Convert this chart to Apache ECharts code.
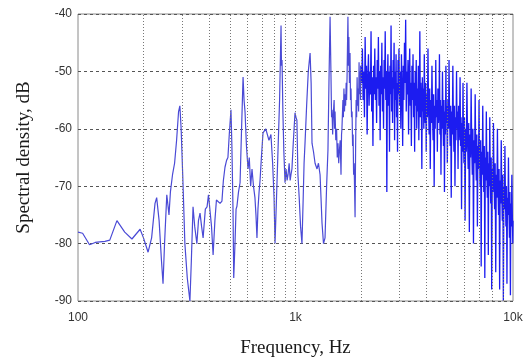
<!DOCTYPE html>
<html>
<head>
<meta charset="utf-8">
<script src="https://cdn.jsdelivr.net/npm/echarts@6/dist/echarts.min.js"></script>
<style>
  html, body { margin: 0; padding: 0; background: #fff; }
  #chart { width: 530px; height: 361px; }
</style>
</head>
<body>
<div id="chart"></div>
<script>
// spectrum, [Hz, dB]
const lowBand = [
  [100, -78], [105, -78.2], [113, -80.2], [120, -79.8], [126, -79.7], [133, -79.6],
  [140, -79.4], [151, -76], [164, -78], [177, -79.2], [193, -77.5], [200, -79],
  [210, -81.5], [218, -79], [226, -73], [230, -72], [236, -76], [242, -83],
  [246, -87], [250, -80], [256, -71.5], [262, -75], [266, -71], [272, -68],
  [278, -66], [284, -62], [290, -57], [294, -56], [298, -60], [303, -68],
  [310, -80], [318, -86], [327, -90], [332, -83], [338, -73.6], [344, -77],
  [352, -80], [358, -76], [364, -74.7], [370, -77], [376, -79], [385, -74],
  [392, -73.6], [398, -71.5], [405, -71.8], [411, -77], [418, -82], [426, -76],
  [433, -72.4], [440, -72.4], [450, -73], [459, -72.6], [466, -69], [474, -66.7],
  [482, -65.5], [489, -65], [496, -61], [505, -56.7], [510, -63], [516, -74],
  [520, -86], [527, -80], [533, -74], [538, -73.5], [547, -71], [556, -69.4],
  [565, -60], [574, -51], [580, -55], [586, -57], [595, -63], [605, -67],
  [613, -65], [622, -70], [631, -67], [641, -70], [651, -72], [658, -75],
  [665, -79], [672, -74], [680, -71], [687, -69], [697, -65], [709, -60.7],
  [720, -61], [730, -60], [740, -59.7], [755, -62], [771, -61], [785, -66],
  [797, -72], [805, -80], [818, -72], [831, -63.7], [845, -55], [858, -42],
  [862, -49], [867, -48], [875, -57], [884, -64], [895, -69.4], [905, -67],
  [915, -69], [924, -68], [935, -66], [945, -69], [953, -68], [963, -67],
  [975, -63], [985, -60], [995, -57.2], [1005, -58], [1015, -58.5], [1026, -68],
  [1040, -72], [1055, -77], [1071, -80], [1085, -72], [1095, -66], [1106, -62.5],
  [1125, -56], [1145, -50], [1167, -46.8], [1180, -52], [1191, -62.5], [1210, -64],
  [1230, -66], [1256, -67], [1275, -66], [1297, -68], [1310, -72], [1324, -76.4],
  [1345, -80], [1367, -79], [1390, -70], [1410, -63.7], [1425, -52], [1442, -40.5],
  [1455, -50], [1465, -58], [1472, -56.7], [1482, -61], [1490, -58], [1505, -55],
  [1512, -60], [1520, -57], [1532, -62], [1545, -60], [1556, -65], [1568, -62.5],
  [1580, -66], [1590, -64], [1605, -62], [1619, -68], [1628, -61], [1635, -60],
  [1645, -57], [1652, -55], [1660, -58], [1670, -53], [1680, -57], [1690, -54],
  [1700, -56], [1710, -52], [1718, -55], [1726, -51], [1742, -40.5], [1752, -49],
  [1760, -44], [1770, -52], [1781, -46.8], [1790, -55], [1800, -53], [1810, -58],
  [1820, -57], [1830, -63], [1840, -61], [1850, -68], [1860, -66], [1879, -75.4],
  [1890, -63], [1900, -55], [1910, -58], [1920, -51], [1930, -56], [1940, -53],
  [1950, -57], [1960, -48.4], [1970, -54], [1981, -50], [1990, -55], [2000, -49]
];

const highBand = [
  [2000, -49],
  [2015, -52], [2030, -46], [2045, -55], [2060, -50], [2075, -58], [2090, -44], [2105, -53], [2120, -49], [2135, -61], [2150, -51],
  [2165, -47], [2180, -56], [2195, -50], [2210, -54], [2225, -43], [2240, -57], [2255, -51], [2270, -63], [2285, -49], [2300, -54],
  [2315, -46], [2330, -55], [2345, -51], [2360, -59], [2375, -48], [2390, -53], [2405, -44], [2420, -56], [2435, -50], [2450, -62],
  [2465, -49], [2480, -54], [2495, -45], [2510, -57], [2525, -51], [2540, -60], [2555, -48], [2570, -53], [2585, -43], [2600, -55],
  [2615, -50], [2630, -71], [2645, -52], [2660, -47], [2675, -56], [2690, -50], [2705, -64], [2720, -49], [2735, -54], [2750, -42],
  [2765, -57], [2780, -51], [2795, -59], [2810, -48], [2825, -53], [2840, -45], [2855, -62], [2870, -50], [2885, -55], [2900, -47],
  [2915, -58], [2930, -52], [2945, -64], [2960, -48], [2975, -54], [2990, -46],
  [3010, -56], [3030, -50], [3050, -60], [3070, -47], [3090, -53], [3110, -63], [3130, -49], [3150, -55], [3170, -45], [3190, -52],
  [3210, -41], [3230, -57], [3250, -50], [3270, -54], [3290, -48], [3310, -61], [3330, -51], [3350, -46], [3370, -56], [3390, -52],
  [3410, -63], [3430, -49], [3450, -55], [3470, -47], [3490, -58], [3510, -52], [3530, -64], [3550, -50], [3570, -56], [3590, -48],
  [3610, -60], [3630, -53], [3650, -57], [3670, -49], [3690, -62], [3710, -54], [3730, -43], [3750, -58], [3770, -52], [3790, -56],
  [3810, -67], [3830, -51], [3850, -57], [3870, -53], [3890, -60], [3910, -47], [3930, -55], [3950, -59], [3970, -52], [3990, -64],
  [4015, -54], [4040, -58], [4065, -46], [4090, -56], [4115, -61], [4140, -53], [4165, -67], [4190, -55], [4215, -59], [4240, -49],
  [4265, -57], [4290, -62], [4315, -54], [4340, -70], [4365, -56], [4390, -60], [4415, -48], [4440, -58], [4465, -55], [4490, -64],
  [4515, -53], [4540, -59], [4565, -57], [4590, -47], [4615, -61], [4640, -55], [4665, -68], [4690, -56], [4715, -60], [4740, -50],
  [4765, -58], [4790, -63], [4815, -55], [4840, -71], [4865, -57], [4890, -61], [4915, -49], [4940, -59], [4965, -56], [4990, -66],
  [5020, -55], [5050, -60], [5080, -48], [5110, -58], [5140, -63], [5170, -56], [5200, -72], [5230, -57], [5260, -61], [5290, -49],
  [5320, -59], [5350, -64], [5380, -56], [5410, -70], [5440, -58], [5470, -62], [5500, -50], [5530, -60], [5560, -57], [5590, -67],
  [5620, -56], [5650, -62], [5680, -59], [5710, -51], [5740, -63], [5770, -58], [5800, -74], [5830, -59], [5860, -64], [5890, -52],
  [5920, -61], [5950, -66], [5980, -58],
  [6020, -76], [6060, -60], [6100, -64], [6140, -52], [6180, -62], [6220, -67], [6260, -59], [6300, -78], [6340, -61], [6380, -65],
  [6420, -53], [6460, -63], [6500, -68], [6540, -60], [6580, -80], [6620, -62], [6660, -66], [6700, -54], [6740, -64], [6780, -69],
  [6820, -61], [6860, -77], [6900, -63], [6940, -67], [6980, -55], [7020, -65], [7060, -70], [7100, -62], [7140, -84], [7180, -64],
  [7220, -68], [7260, -56], [7300, -66], [7340, -71], [7380, -63], [7420, -86], [7460, -65], [7500, -69], [7540, -57], [7580, -67],
  [7620, -72], [7660, -64], [7700, -82], [7740, -66], [7780, -70], [7820, -58], [7860, -68], [7900, -73], [7940, -65], [7980, -88],
  [8030, -67], [8080, -71], [8130, -59], [8180, -69], [8230, -74], [8280, -66], [8330, -85], [8380, -68], [8430, -72], [8480, -60],
  [8530, -70], [8580, -75], [8630, -67], [8680, -88], [8730, -69], [8780, -73], [8830, -62], [8880, -71], [8930, -76], [8980, -68],
  [9030, -90], [9080, -70], [9130, -74], [9180, -63], [9230, -72], [9280, -77], [9330, -70], [9380, -87], [9430, -72], [9480, -75],
  [9530, -65], [9580, -74], [9630, -79], [9680, -71], [9730, -89], [9780, -73], [9830, -77], [9880, -68], [9930, -75], [9980, -80],
  [10000, -76]
];

const minorGridHz = [200, 300, 400, 500, 600, 700, 800, 900, 1000,
  2000, 3000, 4000, 5000, 6000, 7000, 8000, 9000];
const xTickLabels = { 100: "100", 1000: "1k", 10000: "10k" };

const chart = echarts.init(document.getElementById("chart"), null, { renderer: "canvas" });

const serifFont = "Liberation Serif";
const labelFont = "Liberation Sans";

const traceSeries = (data, color, width) => ({
  type: "line",
  z: 2,
  data,
  showSymbol: false,
  symbol: "none",
  lineStyle: { color, width },
});

chart.setOption({
  animation: false,
  backgroundColor: "#fff",
  grid: {
    left: 78,
    right: 17,
    top: 14,
    bottom: 60,
    outerBoundsMode: "none",
    show: true,
    borderColor: "#8a8a8a",
    borderWidth: 1,
  },
  xAxis: {
    type: "log",
    logBase: 10,
    min: 100,
    max: 10000,
    name: "Frequency, Hz",
    nameLocation: "middle",
    nameGap: 38,
    nameTextStyle: { fontFamily: serifFont, fontSize: 19, color: "#1a1a1a" },
    axisLine: { show: false },
    axisTick: { show: false },
    splitLine: { show: false },
    axisLabel: {
      margin: 11,
      fontFamily: labelFont,
      fontSize: 12,
      color: "#333",
      formatter: (v) => xTickLabels[Math.round(v)] ?? "",
    },
  },
  yAxis: {
    type: "value",
    min: -90,
    max: -40,
    interval: 10,
    name: "Spectral density, dB",
    nameLocation: "middle",
    nameRotate: 90,
    nameGap: 44,
    nameTextStyle: { fontFamily: serifFont, fontSize: 19, color: "#1a1a1a" },
    axisLine: { show: false },
    axisTick: { show: false },
    axisLabel: { margin: 6, fontFamily: labelFont, fontSize: 12, color: "#333" },
    splitLine: { lineStyle: { color: "#555", type: [3, 3], width: 1 } },
  },
  series: [
    {
      type: "line",
      data: [],
      z: 1,
      silent: true,
      markLine: {
        silent: true,
        symbol: "none",
        animation: false,
        label: { show: false },
        lineStyle: { color: "#777", type: [1, 2], width: 1 },
        data: minorGridHz.map((hz) => ({ xAxis: hz })),
      },
    },
    traceSeries(lowBand, "#4a4ad6", 1.2),
    traceSeries(highBand, "#1c1cf0", 1.3),
  ],
});
</script>
</body>
</html>
